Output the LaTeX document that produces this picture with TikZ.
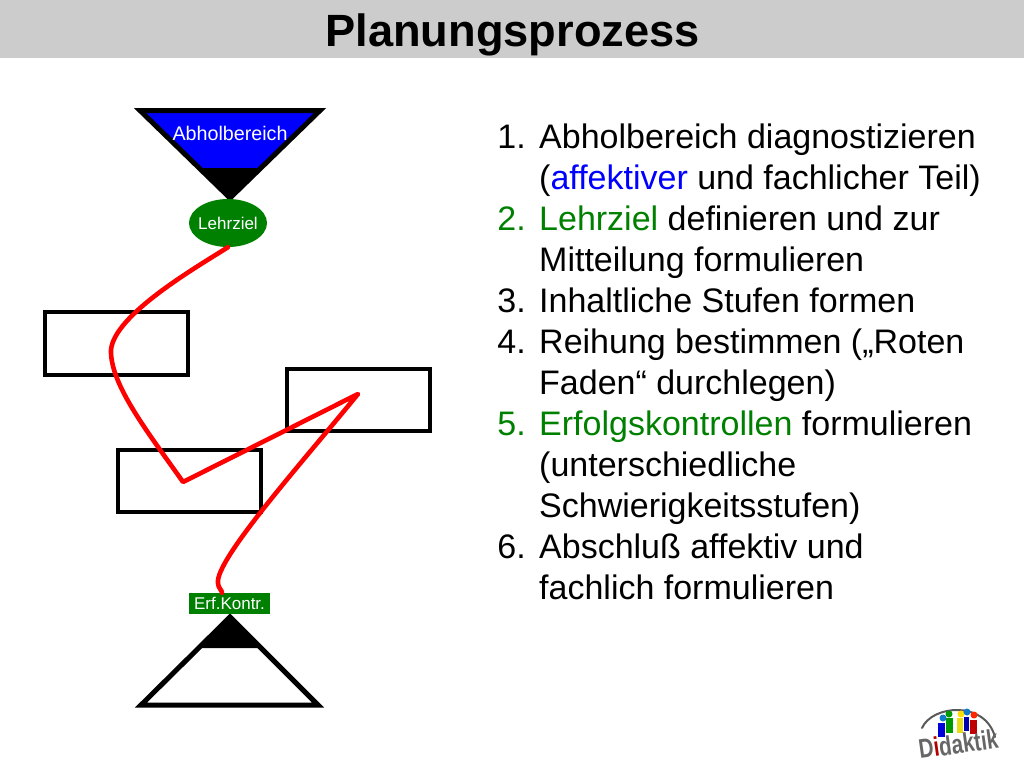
\documentclass[tikz,border=0pt]{standalone}
\usepackage{fontspec}
\setmainfont{Liberation Sans}
\usetikzlibrary{shapes.geometric}
\definecolor{hdr}{HTML}{CCCCCC}
\definecolor{grn}{HTML}{008000}
\definecolor{blu}{HTML}{0000FF}
\definecolor{rd}{HTML}{FF0000}
\tikzset{
 box/.style={draw=black,line width=4pt,fill=none,minimum width=143.5pt,minimum height=62.5pt,inner sep=0pt},
 listnum/.style={anchor=base east,inner sep=0pt,font=\fontsize{34}{34}\selectfont},
 listline/.style={anchor=base west,inner sep=0pt,font=\fontsize{34}{34}\selectfont},
 small/.style={text=white,inner sep=0pt},
 tri/.style={draw=black,line width=5pt,miter limit=10},
 redline/.style={draw=rd,line width=4.6pt,line cap=round,line join=round}
}
\newcommand{\gc}[1]{\textcolor{grn}{#1}}
\begin{document}
\begin{tikzpicture}[x=1pt,y=-1pt]
\useasboundingbox (0,0) rectangle (1024,768);
\fill[hdr] (0,0) rectangle (1024,58);
\node[inner sep=0pt,anchor=base,font=\fontsize{45.2}{46}\selectfont\bfseries] (title) at (512.5,46) {Planungsprozess};
% top funnel
\fill[blu] (140,110) -- (321,110) -- (230,200) -- cycle;
\fill[black] (199,168) -- (262,168) -- (230,201) -- cycle;
\draw[tri] (140,110.5) -- (320,110.5) -- (230,198) -- cycle;
\node[small,font=\fontsize{19.7}{20}\selectfont,anchor=base] (abhol) at (230,140) {Abholbereich};
\node[ellipse,fill=grn,minimum width=78pt,minimum height=48pt,inner sep=0pt] (lehr) at (228,223) {};
\node[small,font=\fontsize{17}{17}\selectfont,anchor=base] (lehrt) at (228,229.5) {Lehrziel};
% boxes
\node[box] (b1) at (116.5,343.5) {};
\node[box] (b2) at (358.5,400) {};
\node[box] (b3) at (189.5,481) {};
% lower triangle
\fill[black] (230,614) -- (198,648) -- (262,648) -- cycle;
\draw[tri] (230,617) -- (318,705) -- (141,705) -- cycle;
\node[fill=grn,minimum width=81pt,minimum height=21pt,inner sep=0pt] (erf) at (229.5,603.5) {};
\node[small,font=\fontsize{17}{17}\selectfont,anchor=base] (erft) at (229.5,609.5) {Erf.Kontr.};
% red path
\coordinate (w1) at (183,482);
\coordinate (w2) at (358,394);
\draw[redline] (lehr.south) .. controls (195,268) and (114,315) .. (111,350)
  .. controls (110,385) and (150,435) .. (w1) -- (w2)
  .. controls (300,465) and (215,560) .. (218,583)
  .. controls (218,588) and (222,590) .. (erf.north -| 222,593);
% list
\foreach \n/\y/\t in {1./148/{Abholbereich diagnostizieren},
  /189/{(\textcolor{blu}{affektiver} und fachlicher Teil)},
  \gc{2.}/230/{\gc{Lehrziel} definieren und zur},
  /271/{Mitteilung formulieren},
  3./312/{Inhaltliche Stufen formen},
  4./353/{Reihung bestimmen („Roten},
  /394/{Faden“ durchlegen)},
  \gc{5.}/435/{\gc{Erfolgskontrollen} formulieren},
  /476/{(unterschiedliche},
  /517/{Schwierigkeitsstufen)},
  6./558/{Abschluß affektiv und},
  /599/{fachlich formulieren}}{
  \node[listnum] at (526,\y) {\n};
  \node[listline] at (539,\y) {\t};
}
% logo
\draw[black!65,line width=2pt,line cap=round] (922,728) .. controls (932,705) and (985,700) .. (995,737);
\fill[blu!85!black] (938,723) rectangle (945,737);
\fill[green!60!black] (946,718) rectangle (953,733);
\fill[yellow!90!black] (957,718) rectangle (963,733);
\fill[blue!70!black] (964,717) rectangle (969,731);
\fill[red!75!black] (970,720) rectangle (977,734);
\fill[cyan!60!blue] (943,718) circle (3.5pt);
\fill[green!60!black] (949,714) circle (3.5pt);
\fill[yellow!80!orange] (961,714) circle (3.5pt);
\fill[cyan!60!blue] (967,712) circle (3.5pt);
\fill[red!70!orange] (974,715) circle (3.5pt);
\node[anchor=base west,inner sep=0pt,rotate=8,xscale=0.76,text=black!60,font=\fontsize{27}{27}\selectfont\bfseries] (logo) at (920,759) {D\textcolor{red!70!black}{i}daktik};
\end{tikzpicture}
\end{document}
